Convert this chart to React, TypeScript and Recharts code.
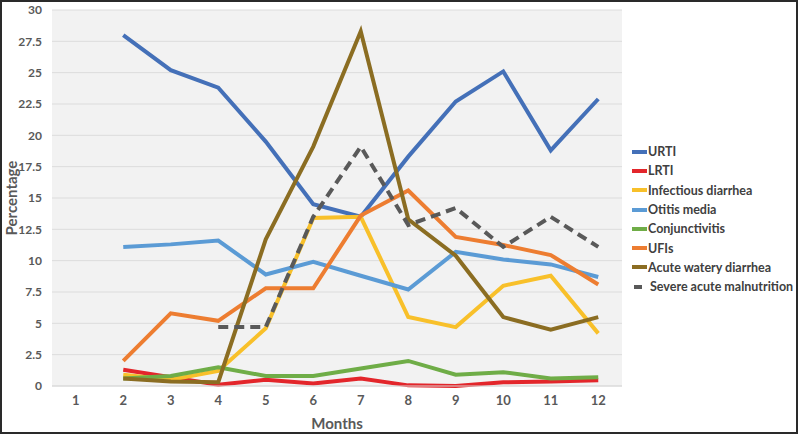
import { CartesianGrid, Line, LineChart, XAxis, YAxis } from "recharts";

const months = [1, 2, 3, 4, 5, 6, 7, 8, 9, 10, 11, 12];
const yTicks = [0, 2.5, 5, 7.5, 10, 12.5, 15, 17.5, 20, 22.5, 25, 27.5, 30];

// values, month 1 has no data
const urti = [null, 28, 25.2, 23.8, 19.5, 14.5, 13.5, 18.3, 22.7, 25.1, 18.8, 22.9];
const lrti = [null, 1.3, 0.7, 0.1, 0.5, 0.2, 0.6, 0.05, 0.0, 0.3, 0.35, 0.45];
const infectiousDiarrhea = [null, 0.9, 0.5, 1.2, 4.6, 13.4, 13.5, 5.5, 4.7, 8.0, 8.8, 4.2];
const otitisMedia = [null, 11.1, 11.3, 11.6, 8.9, 9.9, 8.8, 7.7, 10.7, 10.1, 9.7, 8.7];
const conjunctivitis = [null, 0.6, 0.8, 1.5, 0.8, 0.8, 1.4, 2.0, 0.9, 1.1, 0.6, 0.7];
const ufis = [null, 2.0, 5.8, 5.2, 7.8, 7.8, 13.6, 15.6, 11.9, 11.25, 10.45, 8.1];
const acuteWateryDiarrhea = [null, 0.6, 0.35, 0.3, 11.7, 19.1, 28.3, 13.3, 10.4, 5.5, 4.5, 5.5];
const severeMalnutrition = [null, null, null, 4.7, 4.7, 13.5, 19.1, 12.85, 14.2, 11.1, 13.5, 11.1];

const series = [
  { key: "urti", name: "URTI", values: urti, color: "#4470b8" },
  { key: "lrti", name: "LRTI", values: lrti, color: "#e3262b" },
  { key: "inf", name: "Infectious diarrhea", values: infectiousDiarrhea, color: "#f8c02a" },
  { key: "otitis", name: "Otitis media", values: otitisMedia, color: "#5b9bd5" },
  { key: "conj", name: "Conjunctivitis", values: conjunctivitis, color: "#6fad47" },
  { key: "ufi", name: "UFIs", values: ufis, color: "#ed7d31" },
  { key: "awd", name: "Acute watery diarrhea", values: acuteWateryDiarrhea, color: "#8b6d22" },
  { key: "sam", name: "Severe acute malnutrition", values: severeMalnutrition, color: "#595959", dashed: true },
];

const data = months.map((m, i) => {
  const row: Record<string, number | null> = { month: m };
  series.forEach((s) => {
    row[s.key] = s.values[i];
  });
  return row;
});

const font = "Lato, 'Open Sans', sans-serif";

export default function App() {
  return (
    <div
      style={{
        position: "absolute",
        left: 0,
        top: 0,
        width: 798,
        height: 434,
        boxSizing: "border-box",
        border: "2px solid #2a2a2a",
        background: "#fff",
        fontFamily: font,
      }}
    >
      <div style={{ position: "absolute", left: -2, top: -2 }}>
        <LineChart
          width={798}
          height={434}
          data={data}
          margin={{ top: 10, right: 176, bottom: 18, left: 12 }}
        >
          <CartesianGrid vertical={false} stroke="#dcdcdc" fill="#f2f2f2" />
          <XAxis
            dataKey="month"
            type="number"
            domain={[0.5, 12.5]}
            ticks={months}
            height={30}
            axisLine={{ stroke: "#d9d9d9" }}
            tickLine={false}
            tickSize={0}
            tickMargin={10}
            tick={{ fill: "#595959", fontSize: 13, fontWeight: 700, fontFamily: font }}
          />
          <YAxis
            domain={[0, 30]}
            ticks={yTicks}
            width={40}
            axisLine={false}
            tickLine={false}
            tickSize={0}
            tickMargin={10}
            tick={{ fill: "#595959", fontSize: 12, fontWeight: 700, fontFamily: font }}
          />
          {series.map((s) => (
            <Line
              key={s.key}
              dataKey={s.key}
              name={s.name}
              stroke={s.color}
              strokeWidth={4}
              strokeDasharray={s.dashed ? "10 6" : undefined}
              dot={false}
              type="linear"
              isAnimationActive={false}
            />
          ))}
        </LineChart>
      </div>
      <svg
        width={798}
        height={434}
        style={{ position: "absolute", left: -2, top: -2, pointerEvents: "none" }}
      >
        <text
          x={0}
          y={0}
          transform="translate(17 198) rotate(-90)"
          textAnchor="middle"
          fontSize={15}
          fontWeight={700}
          fill="#595959"
          fontFamily={font}
        >
          Percentage
        </text>
        <text
          x={337}
          y={429}
          textAnchor="middle"
          fontSize={15}
          fontWeight={700}
          fill="#595959"
          fontFamily={font}
        >
          Months
        </text>
      </svg>
      <div style={{ position: "absolute", left: 629, top: 140, width: 166 }}>
        {series.map((s) => (
          <div
            key={s.key}
            style={{
              display: "flex",
              alignItems: "center",
              height: 19.3,
              fontSize: 12.5,
              fontWeight: 700,
              color: "#404040",
              whiteSpace: "nowrap",
            }}
          >
            <svg width={s.dashed ? 19 : 16} height={6}>
              <line
                x1={s.dashed ? 3 : 1}
                y1={3}
                x2={s.dashed ? 11 : 16}
                y2={3}
                stroke={s.color}
                strokeWidth={4}
              />
            </svg>
            <span style={{ marginLeft: s.dashed ? 0 : 1 }}>{s.name}</span>
          </div>
        ))}
      </div>
    </div>
  );
}
